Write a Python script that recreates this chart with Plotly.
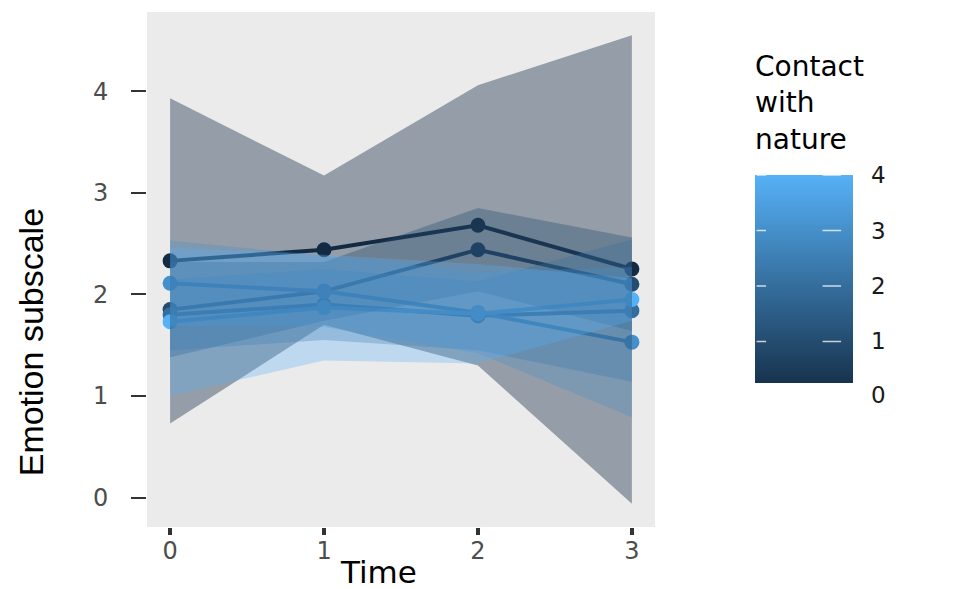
import plotly.graph_objects as go

# ---------------- data ----------------
time = [0, 1, 2, 3]
contact_levels = [0, 1, 2, 3, 4]

mean_c0 = [2.33, 2.44, 2.68, 2.25]
mean_c1 = [1.85, 2.03, 2.44, 2.10]
mean_c2 = [1.80, 1.90, 1.79, 1.84]
mean_c3 = [2.11, 2.03, 1.82, 1.53]
mean_c4 = [1.73, 1.87, 1.81, 1.95]

lower_c0 = [0.73, 1.70, 1.30, -0.06]
upper_c0 = [3.93, 3.17, 4.06, 4.55]
lower_c1 = [1.38, 1.74, 2.03, 1.64]
upper_c1 = [2.32, 2.32, 2.85, 2.56]
lower_c2 = [1.45, 1.55, 1.45, 1.14]
upper_c2 = [2.15, 2.25, 2.13, 2.54]
lower_c3 = [1.69, 1.68, 1.42, 0.79]
upper_c3 = [2.53, 2.38, 2.22, 2.27]
lower_c4 = [1.00, 1.35, 1.32, 1.74]
upper_c4 = [2.46, 2.39, 2.30, 2.16]

y_ticks = [0, 1, 2, 3, 4]
cb_ticks = [1, 2, 3, 4]

means = [mean_c0, mean_c1, mean_c2, mean_c3, mean_c4]
lowers = [lower_c0, lower_c1, lower_c2, lower_c3, lower_c4]
uppers = [upper_c0, upper_c1, upper_c2, upper_c3, upper_c4]

# ---------------- style ----------------
LOW = (0x13, 0x2B, 0x43)
HIGH = (0x56, 0xB1, 0xF7)
CMIN, CMAX = 0.0, 4.0
RIBBON_ALPHA = [0.40, 0.36, 0.32, 0.30, 0.30]


def col(v, a=None):
    t = (v - CMIN) / (CMAX - CMIN)
    r, g, b = [round(LOW[i] + t * (HIGH[i] - LOW[i])) for i in range(3)]
    if a is None:
        return f"rgb({r},{g},{b})"
    return f"rgba({r},{g},{b},{a})"


FONT = "DejaVu Sans, Arial, sans-serif"
fig = go.Figure()

# lines + points (drawn first; ribbons are painted over them as in the original)
for lvl, m in zip(contact_levels, means):
    fig.add_trace(go.Scatter(
        x=time, y=m, mode="lines+markers",
        line=dict(color=col(lvl), width=4),
        marker=dict(color=col(lvl), size=15),
        showlegend=False, hoverinfo="skip"))

# ribbons
for lvl, lo, hi, a in zip(contact_levels, lowers, uppers, RIBBON_ALPHA):
    fig.add_trace(go.Scatter(
        x=time + time[::-1], y=hi + lo[::-1],
        fill="toself", mode="lines", line=dict(width=0),
        fillcolor=col(lvl, a),
        showlegend=False, hoverinfo="skip"))

# colourbar carrier
cb_lo, cb_hi = 0.25, 4.0
fig.add_trace(go.Scatter(
    x=[None], y=[None], mode="markers",
    marker=dict(
        color=[cb_lo, cb_hi], cmin=cb_lo, cmax=cb_hi,
        colorscale=[[0, col(cb_lo)], [1, col(cb_hi)]],
        showscale=True,
        colorbar=dict(
            x=1.197, xanchor="left", y=0.4815, yanchor="middle",
            thickness=98, thicknessmode="pixels",
            len=208, lenmode="pixels",
            xpad=0, ypad=0, outlinewidth=0,
            tickvals=cb_ticks, ticktext=[str(v) for v in cb_ticks],
            ticks="outside", ticklen=14, tickcolor="rgba(255,255,255,0)",
            tickfont=dict(family=FONT, size=23, color="#1a1a1a"),
        )),
    showlegend=False, hoverinfo="skip"))

# geometry of the colour bar in paper coords (plot area 12..527 px tall)
bar_bottom = 0.2796
bar_top = 0.6835
bar_left = 1.197
bar_right = bar_left + 98 / 508


def cb_y(v):
    return bar_bottom + (v - cb_lo) / (cb_hi - cb_lo) * (bar_top - bar_bottom)


annotations = [
    dict(text="0", xref="paper", yref="paper", x=bar_right + 16 / 508,
         y=cb_y(0) + 0.003, xanchor="left", yanchor="middle", showarrow=False,
         font=dict(family=FONT, size=23, color="#1a1a1a")),
    dict(text="Time", xref="paper", yref="paper", x=0.455, y=-0.088,
         xanchor="center", yanchor="middle", showarrow=False, height=32,
         font=dict(family=FONT, size=31, color="black")),
    dict(text="Emotion subscale", xref="paper", yref="paper", x=-0.228, y=0.359,
         xanchor="center", yanchor="middle", showarrow=False, textangle=-90,
         font=dict(family="Liberation Sans Narrow, Liberation Sans, Arial", size=34, color="black")),
    dict(text="Contact<br>with<br>nature", xref="paper", yref="paper",
         x=bar_left - 2 / 508, xanchor="left", align="left",
         y=(527 - 48) / 515, yanchor="top", showarrow=False,
         font=dict(family=FONT, size=28, color="black")),
]

# white tick marks drawn over the colour bar (as short arrow-less segments)
for v in cb_ticks:
    yy = cb_y(v)
    for x_start, length in [(bar_left, 11), (bar_right - 32 / 508, 20)]:
        annotations.append(dict(
            text="", xref="paper", yref="paper", x=x_start + length / 508, y=yy,
            ax=-length, ay=0, axref="pixel", ayref="pixel",
            showarrow=True, arrowhead=0, arrowwidth=1.5, standoff=0, startstandoff=0,
            arrowcolor="rgba(255,255,255,0.75)"))

fig.update_layout(
    width=950, height=581,
    margin=dict(l=139, r=303, t=4, b=62),
    paper_bgcolor="white", plot_bgcolor="#EBEBEB",
    annotations=annotations,
    xaxis=dict(range=[-0.15, 3.15], tickvals=time, showgrid=False, zeroline=False,
               ticks="outside", ticklen=7, tickwidth=4, tickcolor="#333333",
               ticklabelstandoff=-5,
               tickfont=dict(family=FONT, size=24, color="#4D4D4D")),
    yaxis=dict(range=[-0.29, 4.78], tickvals=y_ticks, showgrid=False, zeroline=False,
               ticks="outside", ticklen=15, tickwidth=2, tickcolor="#333333",
               ticklabelstandoff=18,
               tickfont=dict(family=FONT, size=24, color="#4D4D4D")),
)

fig.write_html("out.html")
